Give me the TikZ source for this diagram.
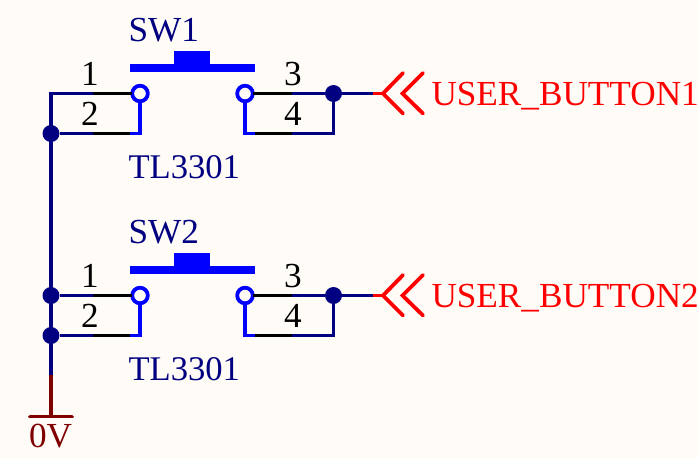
\documentclass[tikz,border=0pt]{standalone}
\usepackage{fontspec}
\setmainfont{Liberation Serif}
\definecolor{paper}{HTML}{FFFCF8}
\definecolor{wirenavy}{HTML}{000080}
\definecolor{partblue}{HTML}{0000FF}
\definecolor{powerred}{HTML}{800000}
\tikzset{
  txt/.style={inner sep=0pt,outer sep=0pt,font=\fontsize{35.2}{40}\selectfont},
  lbl/.style={txt,anchor=base west},
  pinnum/.style={txt,anchor=base,text=black},
  wire/.style={draw=wirenavy,line width=3.8pt},
  pinline/.style={draw=black,line width=3.8pt},
  partline/.style={draw=partblue,line width=3.8pt},
  dot/.style={circle,fill=wirenavy,draw=none,minimum size=17pt,inner sep=0pt},
  pad/.style={circle,draw=partblue,fill=paper,line width=3.8pt,minimum size=15.6pt,inner sep=0pt,outer sep=0pt},
  flagline/.style={draw=red,line width=3.8pt,line cap=round},
  pics/tlswitch/.style n args={2}{code={
    \fill[partblue] (130,63.5) rectangle (255,71.5);
    \fill[partblue] (174,51) rectangle (210,64);
    \node[lbl,text=wirenavy] at (128.5,41) {SW#1};
    \node[lbl,text=wirenavy,font=\fontsize{34.6}{40}\selectfont] at (128.5,178) {TL3301};
    \node[pinnum] at (90,85) {1};
    \node[pinnum] at (90,125) {2};
    \node[pinnum] at (293,85) {3};
    \node[pinnum] at (293,125) {4};
    \coordinate (-lt) at (93,93.5);
    \coordinate (-lb) at (93,133.5);
    \coordinate (-rt) at (292,93.5);
    \coordinate (-rb) at (292,133.5);
    \coordinate (-bl) at (141.5,133.5);
    \coordinate (-br) at (243.5,133.5);
    \node[pad] (-p1) at (140,93.5) {};
    \node[pad] (-p3) at (245,93.5) {};
    \draw[pinline] (-lt) -- (-p1.west);
    \draw[pinline] (-lb) -- (130,133.5);
    \draw[pinline] (-p3.east) -- (-rt);
    \draw[pinline] (255,133.5) -- (-rb);
    \draw[partline] (-p1.south) -- (-bl -| -p1.south) -- (130,133.5);
    \draw[partline] (-p3.south) -- (-br -| -p3.south) -- (255,133.5);
    \node[dot] (-j) at (333.5,93.5) {};
    \draw[wire] (-rt) -- (-j) -- (373,93.5);
    \draw[wire] (-rb) -- (333.5,133.5) -- (-j);
    \coordinate (-stub) at (373,93.5);
    \coordinate (-tip) at (383,93.5);
    \draw[flagline,line cap=butt] (-stub) -- (-tip);
    \draw[flagline] (403,73) -- (-tip) -- (403,113.5);
    \draw[flagline] (423,73) -- (402.5,93.5) -- (423,113.5);
    \node[lbl,text=red] at (431.5,105) {USER\_BUTTON#2};
  }}
}
\begin{document}
\begin{tikzpicture}[x=1pt,y=-1pt]
  \useasboundingbox (0,0) rectangle (698,458);
  \fill[paper] (0,0) rectangle (698,458);
  \pic (a) at (0,0) {tlswitch={1}{1}};
  \pic (b) at (0,202) {tlswitch={2}{2}};
  \node[dot] (j1) at (51,133.5) {};
  \node[dot] (j2) at (51,295.5) {};
  \node[dot] (j3) at (51,335.5) {};
  \coordinate (corner) at (51,93.5);
  \coordinate (pw) at (51,375);
  \coordinate (gnd) at (51,416.5);
  \draw[wire] (a-lt) -- (corner) -- (pw);
  \draw[wire] (j1) -- (a-lb);
  \draw[wire] (j2) -- (b-lt);
  \draw[wire] (j3) -- (b-lb);
  \draw[draw=powerred,line width=3.8pt] (pw) -- (gnd);
  \draw[draw=powerred,line width=3.8pt,line cap=round] (30,416.5) -- (72,416.5);
  \node[lbl,text=powerred] (zerov) at (29,447) {0V};
\end{tikzpicture}
\end{document}
